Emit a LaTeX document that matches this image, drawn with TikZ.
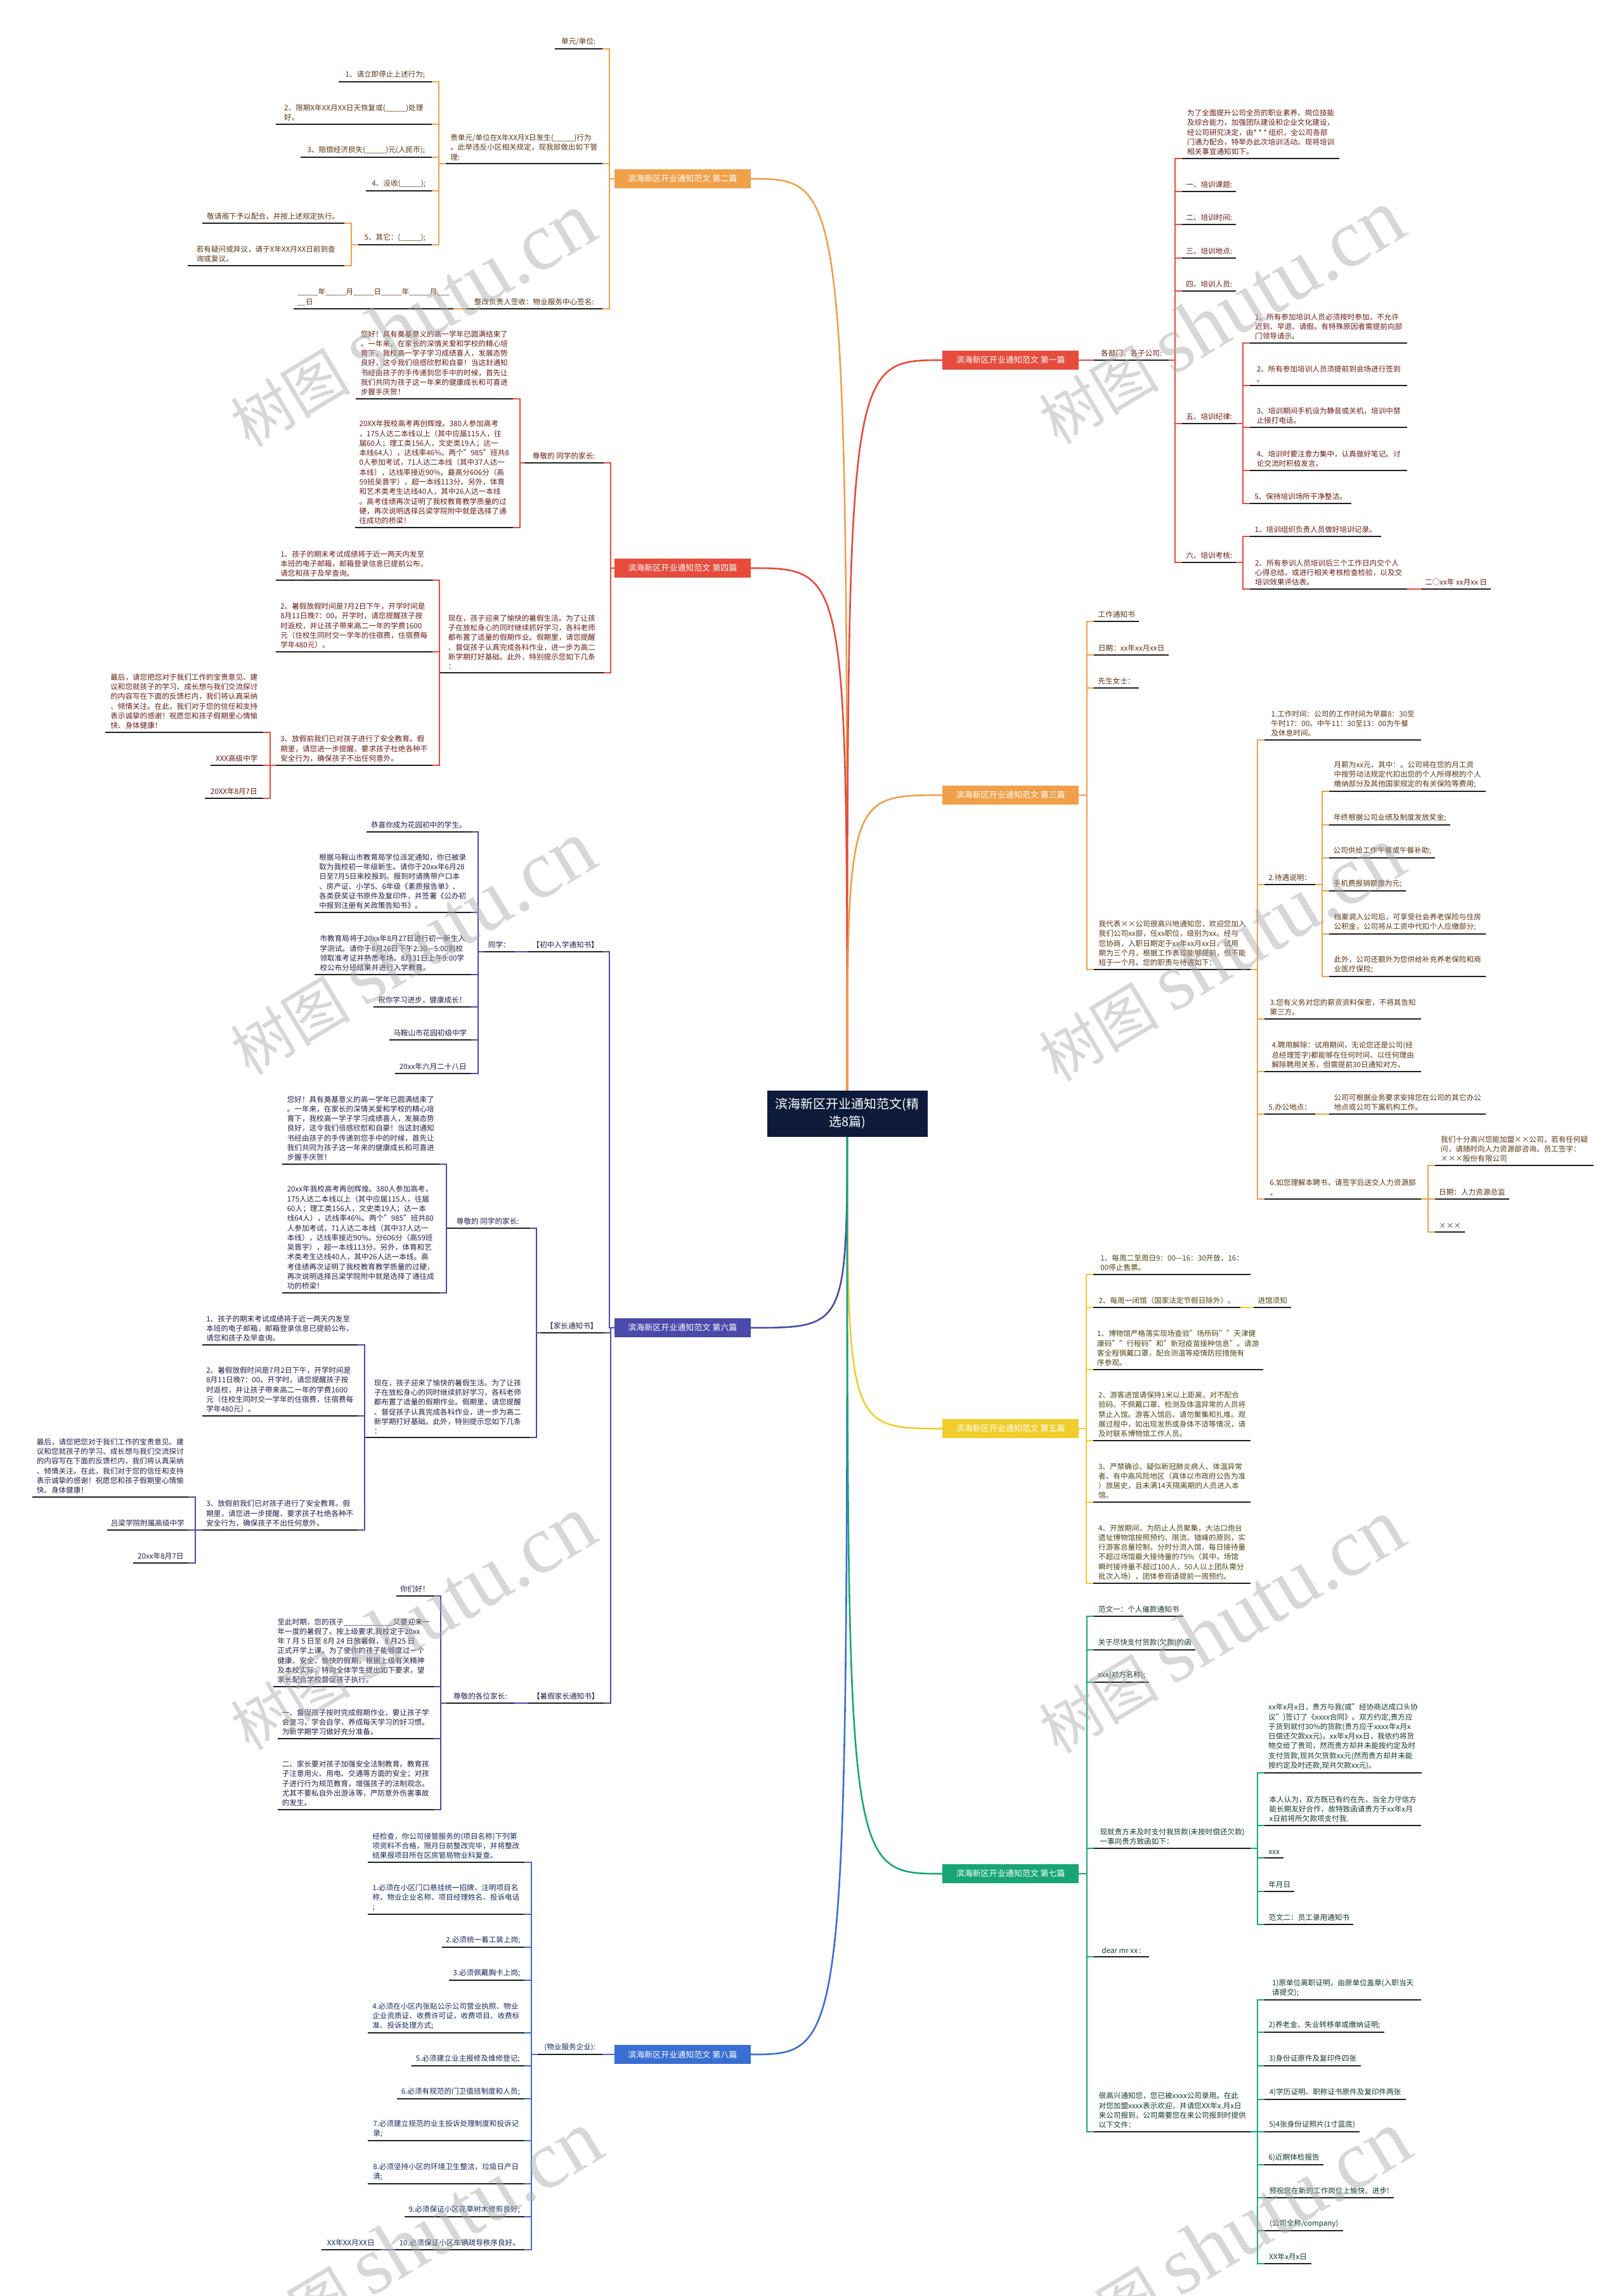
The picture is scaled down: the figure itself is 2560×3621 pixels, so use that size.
\documentclass[tikz,border=0pt]{standalone}
\usepackage{fontspec}
\setmainfont{Noto Sans CJK SC}
\newfontfamily\wmserif{Liberation Serif}
\pgfdeclarelayer{bg}
\pgfdeclarelayer{fg}
\pgfsetlayers{bg,main,fg}
\definecolor{cO}{HTML}{F0A04A}
\definecolor{cR}{HTML}{E64B3C}
\definecolor{cI}{HTML}{4A4AAA}
\definecolor{cB}{HTML}{3A6ED2}
\definecolor{cY}{HTML}{F1CD2C}
\definecolor{cG}{HTML}{17A673}
\definecolor{cRoot}{HTML}{0D1A3A}
\definecolor{tO}{HTML}{5A3512}
\definecolor{tR}{HTML}{6A1B16}
\definecolor{tI}{HTML}{20204A}
\definecolor{tB}{HTML}{16295A}
\definecolor{tY}{HTML}{4E4512}
\definecolor{tG}{HTML}{12392A}
\definecolor{wm}{HTML}{A8A8A8}
\newcommand\bodyfont{\fontsize{11.6}{15.3}\selectfont}
\newcommand\boxfont{\fontsize{13}{16}\selectfont}
\newcommand\rootfont{\fontsize{20}{28}\selectfont}
\newcommand\linkL[2]{\draw[cn] (#1.south east) -- ++(11,0) |- (#2.south west);}
\newcommand\linkR[2]{\draw[cn] (#1.south west) -- ++(-11,0) |- (#2.south east);}
\newcommand\linkLB[2]{\draw[cn] (#1.south east) -- ++(11,0) |- (#2.west);}
\newcommand\linkRB[2]{\draw[cn] (#1.south west) -- ++(-11,0) |- (#2.east);}
\begin{document}
\begin{tikzpicture}[x=1pt,y=-1pt,
  tx/.style={},
  cn/.style={draw=black,line width=2.2pt},
  ulk/.style={draw=black!88,line width=2pt},
  ul/.style={append after command={(\tikzlastnode.south west) edge[ulk] (\tikzlastnode.south east)}},
  leaf/.style={tx,font=\bodyfont,align=left,inner xsep=6pt,inner ysep=5pt,ul},
  lnode/.style={leaf,anchor=south east,minimum width=#1},
  rnode/.style={leaf,anchor=south west,minimum width=#1},
  brbox/.style={font=\boxfont,text=white,minimum width=215,minimum height=30,inner sep=3pt},
  brL/.style={brbox,anchor=east,fill=#1},
  brR/.style={brbox,anchor=west,fill=#1},
  curve/.style={line width=2.6pt},
  wmk/.style={text=wm,text opacity=0.45,rotate=31,font=\fontsize{95}{95}\selectfont,inner sep=0pt}
]
\begin{pgfonlayer}{bg}
\fill[white] (0,0) rectangle (2560,3621);
\end{pgfonlayer}
\useasboundingbox (0,0) rectangle (2560,3621);

% root
\node[fill=cRoot,text=white,font=\rootfont,align=center,minimum width=253,minimum height=73,inner sep=4pt] (root) at (1336,1756) {滨海新区开业通知范文(精\\选8篇)};

% branch boxes
\node[brL=cO] (b2) at (1184,282) {滨海新区开业通知范文 第二篇};
\node[brL=cR] (b4) at (1184,896) {滨海新区开业通知范文 第四篇};
\node[brL=cI] (b6) at (1184,2094) {滨海新区开业通知范文 第六篇};
\node[brL=cB] (b8) at (1184,3240) {滨海新区开业通知范文 第八篇};
\node[brR=cR] (b1) at (1486,568) {滨海新区开业通知范文 第一篇};
\node[brR=cO] (b3) at (1486,1254) {滨海新区开业通知范文 第三篇};
\node[brR=cY] (b5) at (1486,2253) {滨海新区开业通知范文 第五篇};
\node[brR=cG] (b7) at (1486,2955) {滨海新区开业通知范文 第七篇};

\begin{pgfonlayer}{bg}
\draw[curve,cO] (root.center) .. controls (root.center |- b2.east) .. (b2.east);
\draw[curve,cR] (root.center) .. controls (root.center |- b4.east) .. (b4.east);
\draw[curve,cI] (root.center) .. controls (root.center |- b6.east) .. (b6.east);
\draw[curve,cB] (root.center) .. controls (root.center |- b8.east) .. (b8.east);
\draw[curve,cR] (root.center) .. controls (root.center |- b1.west) .. (b1.west);
\draw[curve,cO] (root.center) .. controls (root.center |- b3.west) .. (b3.west);
\draw[curve,cY] (root.center) .. controls (root.center |- b5.west) .. (b5.west);
\draw[curve,cG] (root.center) .. controls (root.center |- b7.west) .. (b7.west);
\end{pgfonlayer}

% ---------------- Section 2
\begin{scope}[cn/.style={draw=cO,line width=2.2pt},tx/.style={text=tO}]
\node[lnode=75] (n2a) at (950,77) {单元/单位:};
\node[lnode=247] (n2b) at (950,258) {贵单元/单位在X年XX月X日发生(\_\_\_\_\_)行为\\。此举违反小区相关规定，现我部做出如下管\\理:};
\node[lnode=215] (n2c) at (950,487) {整改负责人签收：物业服务中心签名:};
\node[lnode=245] (n2c1) at (715,487) {\_\_\_\_\_年\_\_\_\_\_月\_\_\_\_\_日\_\_\_\_\_年\_\_\_\_\_月\_\_\_\\\_\_日};
\node[lnode=147] (n2b1) at (681,129) {1、请立即停止上述行为;};
\node[lnode=246] (n2b2) at (681,196) {2、限期X年XX月XX日天恢复或(\_\_\_\_\_)处理\\好。};
\node[lnode=207] (n2b3) at (681,248) {3、赔偿经济损失(\_\_\_\_\_)元(人民币);};
\node[lnode=104] (n2b4) at (681,301) {4、没收(\_\_\_\_\_);};
\node[lnode=116] (n2b5) at (681,386) {5、其它：(\_\_\_\_\_);};
\node[lnode=224] (n2b5a) at (543,352) {敬请阁下予以配合，并按上述规定执行。};
\node[lnode=247] (n2b5b) at (543,419) {若有疑问或异议，请于X年XX月XX日前到查\\询或复议。};
\linkLB{n2a}{b2}\linkLB{n2b}{b2}\linkLB{n2c}{b2}
\linkL{n2c1}{n2c}
\linkL{n2b1}{n2b}\linkL{n2b2}{n2b}\linkL{n2b3}{n2b}\linkL{n2b4}{n2b}\linkL{n2b5}{n2b}
\linkL{n2b5a}{n2b5}\linkL{n2b5b}{n2b5}
\end{scope}

% ---------------- Section 4
\begin{scope}[cn/.style={draw=cR,line width=2.2pt},tx/.style={text=tR}]
\node[lnode=125] (n4a) at (952,730) {尊敬的 同学的家长:};
\node[lnode=248] (n4a1) at (809,629) {您好！具有奠基意义的高一学年已圆满结束了\\。一年来，在家长的深情关爱和学校的精心培\\育下，我校高一学子学习成绩喜人，发展态势\\良好，这令我们倍感欣慰和自豪！当这封通知\\书经由孩子的手传递到您手中的时候，首先让\\我们共同为孩子这一年来的健康成长和可喜进\\步握手庆贺！};
\node[lnode=248] (n4a2) at (809,832) {20XX年我校高考再创辉煌。380人参加高考\\，175人达二本线以上（其中应届115人，往\\届60人；理工类156人，文史类19人；达一\\本线64人），达线率46\%。两个"985"班共8\\0人参加考试，71人达二本线（其中37人达一\\本线），达线率接近90\%。最高分606分（高\\59班吴晋宇），超一本线113分。另外，体育\\和艺术类考生达线40人，其中26人达一本线\\。高考佳绩再次证明了我校教育教学质量的过\\硬，再次说明选择吕梁学院附中就是选择了通\\往成功的桥梁！};
\node[lnode=258] (n4b) at (952,1061) {现在，孩子迎来了愉快的暑假生活。为了让孩\\子在放松身心的同时继续抓好学习，各科老师\\都布置了适量的假期作业。假期里，请您提醒\\、督促孩子认真完成各科作业，进一步为高二\\新学期打好基础。此外，特别提示您如下几条\\：};
\node[lnode=247] (n4b1) at (682,915) {1、孩子的期末考试成绩将于近一两天内发至\\本班的电子邮箱，邮箱登录信息已提前公布，\\请您和孩子及早查询。};
\node[lnode=247] (n4b2) at (682,1028) {2、暑假放假时间是7月2日下午，开学时间是\\8月11日晚7：00。开学时，请您提醒孩子按\\时返校，并让孩子带来高二一年的学费1600\\元（住校生同时交一学年的住宿费，住宿费每\\学年480元）。};
\node[lnode=247] (n4b3) at (682,1207) {3、放假前我们已对孩子进行了安全教育。假\\期里，请您进一步提醒、要求孩子杜绝各种不\\安全行为，确保孩子不出任何意外。};
\node[lnode=249] (n4b3a) at (415,1155) {最后，请您把您对于我们工作的宝贵意见、建\\议和您就孩子的学习、成长想与我们交流探讨\\的内容写在下面的反馈栏内，我们将认真采纳\\、倾情关注。在此，我们对于您的信任和支持\\表示诚挚的感谢！祝愿您和孩子假期里心情愉\\快、身体健康！};
\node[lnode=83] (n4b3b) at (415,1207) {XXX高级中学};
\node[lnode=92] (n4b3c) at (415,1259) {20XX年8月7日};
\linkLB{n4a}{b4}\linkLB{n4b}{b4}
\linkL{n4a1}{n4a}\linkL{n4a2}{n4a}
\linkL{n4b1}{n4b}\linkL{n4b2}{n4b}\linkL{n4b3}{n4b}
\linkL{n4b3a}{n4b3}\linkL{n4b3b}{n4b3}\linkL{n4b3c}{n4b3}
\end{scope}

% ---------------- Section 6
\begin{scope}[cn/.style={draw=cI,line width=2.2pt},tx/.style={text=tI}]
\node[lnode=116] (n6a) at (950,1501) {【初中入学通知书】};
\node[lnode=47] (n6a1) at (811,1501) {同学：};
\node[lnode=165] (n6a1a) at (743,1312) {恭喜你成为花园初中的学生。};
\node[lnode=247] (n6a1b) at (743,1439) {根据马鞍山市教育局学位派定通知，你已被录\\取为我校初一年级新生。请你于20xx年6月28\\日至7月5日来校报到。报到时请携带户口本\\、房产证、小学5、6年级《素质报告单》、\\各类获奖证书原件及复印件，并签署《公办初\\中报到注册有关政策告知书》。};
\node[lnode=247] (n6a1c) at (743,1537) {市教育局将于20xx年8月27日进行初一新生入\\学测试。请你于8月26日下午2:30—5:00到校\\领取准考证并熟悉考场。8月31日上午9:00学\\校公布分班结果并进行入学教育。};
\node[lnode=154] (n6a1d) at (743,1588) {祝你学习进步，健康成长！};
\node[lnode=129] (n6a1e) at (743,1640) {马鞍山市花园初级中学};
\node[lnode=120] (n6a1f) at (743,1693) {20xx年六月二十八日};
\node[lnode=100] (n6b) at (952,2102) {【家长通知书】};
\node[lnode=131] (n6b1) at (835,1937) {尊敬的 同学的家长:};
\node[lnode=248] (n6b1a) at (693,1836) {您好！具有奠基意义的高一学年已圆满结束了\\。一年来，在家长的深情关爱和学校的精心培\\育下，我校高一学子学习成绩喜人，发展态势\\良好，这令我们倍感欣慰和自豪！当这封通知\\书经由孩子的手传递到您手中的时候，首先让\\我们共同为孩子这一年来的健康成长和可喜进\\步握手庆贺！};
\node[lnode=248] (n6b1b) at (693,2039) {20xx年我校高考再创辉煌。380人参加高考，\\175人达二本线以上（其中应届115人，往届\\60人；理工类156人，文史类19人；达一本\\线64人），达线率46\%。两个"985"班共80\\人参加考试，71人达二本线（其中37人达一\\本线），达线率接近90\%。分606分（高59班\\吴晋宇），超一本线113分。另外，体育和艺\\术类考生达线40人，其中26人达一本线。高\\考佳绩再次证明了我校教育教学质量的过硬，\\再次说明选择吕梁学院附中就是选择了通往成\\功的桥梁！};
\node[lnode=258] (n6b2) at (835,2267) {现在，孩子迎来了愉快的暑假生活。为了让孩\\子在放松身心的同时继续抓好学习，各科老师\\都布置了适量的假期作业。假期里，请您提醒\\、督促孩子认真完成各科作业，进一步为高二\\新学期打好基础。此外，特别提示您如下几条\\：};
\node[lnode=245] (n6b2a) at (564,2121) {1、孩子的期末考试成绩将于近一两天内发至\\本班的电子邮箱，邮箱登录信息已提前公布，\\请您和孩子及早查询。};
\node[lnode=245] (n6b2b) at (564,2233) {2、暑假放假时间是7月2日下午，开学时间是\\8月11日晚7：00。开学时，请您提醒孩子按\\时返校，并让孩子带来高二一年的学费1600\\元（住校生同时交一学年的住宿费，住宿费每\\学年480元）。};
\node[lnode=245] (n6b2c) at (564,2413) {3、放假前我们已对孩子进行了安全教育。假\\期里，请您进一步提醒、要求孩子杜绝各种不\\安全行为，确保孩子不出任何意外。};
\node[lnode=246] (n6b2c1) at (297,2361) {最后，请您把您对于我们工作的宝贵意见、建\\议和您就孩子的学习、成长想与我们交流探讨\\的内容写在下面的反馈栏内，我们将认真采纳\\、倾情关注。在此，我们对于您的信任和支持\\表示诚挚的感谢！祝愿您和孩子假期里心情愉\\快、身体健康！};
\node[lnode=128] (n6b2c2) at (297,2413) {吕梁学院附属高级中学};
\node[lnode=87] (n6b2c3) at (297,2465) {20xx年8月7日};
\node[lnode=119] (n6c) at (952,2686) {【暑假家长通知书】};
\node[lnode=107] (n6c1) at (811,2686) {尊敬的各位家长:};
\node[lnode=59] (n6c1a) at (684,2517) {你们好！};
\node[lnode=246] (n6c1b) at (684,2660) {至此时期，您的孩子\_\_\_\_\_\_\_\_\_\_\_\_又要迎来一\\年一度的暑假了。按上级要求,我校定于20xx\\年 7 月 5 日至 8月 24 日放暑假， 8 月25 日\\正式开学上课。为了使你的孩子能够度过一个\\健康、安全、愉快的假期，根据上级有关精神\\及本校实际，特向全体学生提出如下要求，望\\家长配合学校督促孩子执行。};
\node[lnode=246] (n6c1c) at (684,2742) {一、督促孩子按时完成假期作业，要让孩子学\\会复习，学会自学，养成每天学习的好习惯。\\为新学期学习做好充分准备。};
\node[lnode=246] (n6c1d) at (684,2854) {二、家长要对孩子加强安全法制教育。教育孩\\子注意用火、用电、交通等方面的安全；对孩\\子进行行为规范教育，增强孩子的法制观念。\\尤其不要私自外出游泳等，严防意外伤害事故\\的发生。};
\linkLB{n6a}{b6}\linkLB{n6b}{b6}\linkLB{n6c}{b6}
\linkL{n6a1}{n6a}
\linkL{n6a1a}{n6a1}\linkL{n6a1b}{n6a1}\linkL{n6a1c}{n6a1}\linkL{n6a1d}{n6a1}\linkL{n6a1e}{n6a1}\linkL{n6a1f}{n6a1}
\linkL{n6b1}{n6b}\linkL{n6b2}{n6b}
\linkL{n6b1a}{n6b1}\linkL{n6b1b}{n6b1}
\linkL{n6b2a}{n6b2}\linkL{n6b2b}{n6b2}\linkL{n6b2c}{n6b2}
\linkL{n6b2c1}{n6b2c}\linkL{n6b2c2}{n6b2c}\linkL{n6b2c3}{n6b2c}
\linkL{n6c1}{n6c}
\linkL{n6c1a}{n6c1}\linkL{n6c1b}{n6c1}\linkL{n6c1c}{n6c1}\linkL{n6c1d}{n6c1}
\end{scope}

% ---------------- Section 8
\begin{scope}[cn/.style={draw=cB,line width=2.2pt},tx/.style={text=tB}]
\node[lnode=102] (n8a) at (950,3240) {(物业服务企业):};
\node[lnode=247] (n8a1) at (827,2937) {经检查，你公司接管服务的(项目名称)下列第\\项资料不合格，限月日前整改完毕，并将整改\\结果报项目所在区房管局物业科复查。};
\node[lnode=247] (n8a2) at (827,3019) {1.必须在小区门口悬挂统一招牌，注明项目名\\称，物业企业名称、项目经理姓名、投诉电话\\;};
\node[lnode=130] (n8a3) at (827,3071) {2.必须统一着工装上岗;};
\node[lnode=119] (n8a4) at (827,3123) {3.必须佩戴胸卡上岗;};
\node[lnode=247] (n8a5) at (827,3206) {4.必须在小区内张贴公示公司营业执照、物业\\企业资质证、收费许可证，收费项目、收费标\\准、投诉处理方式;};
\node[lnode=178] (n8a6) at (827,3258) {5.必须建立业主报修及维修登记;};
\node[lnode=201] (n8a7) at (827,3310) {6.必须有规范的门卫值班制度和人员;};
\node[lnode=247] (n8a8) at (827,3376) {7.必须建立规范的业主投诉处理制度和投诉记\\录;};
\node[lnode=247] (n8a9) at (827,3444) {8.必须坚持小区的环境卫生整洁，垃圾日产日\\清;};
\node[lnode=189] (n8a10) at (827,3496) {9.必须保证小区花草树木修剪良好;};
\node[lnode=204] (n8a11) at (827,3548) {10.必须保证小区车辆疏导秩序良好。};
\node[lnode=93] (n8a12) at (600,3548) {XX年XX月XX日};
\linkLB{n8a}{b8}
\foreach \k in {1,...,11}{\linkL{n8a\k}{n8a}}
\linkL{n8a12}{n8a11}
\end{scope}

% ---------------- Section 1
\begin{scope}[cn/.style={draw=cR,line width=2.2pt},tx/.style={text=tR}]
\node[rnode=118] (n1a) at (1725,568) {各部门、各子公司:};
\node[rnode=248] (n1a1) at (1864,250) {为了全面提升公司全员的职业素养、岗位技能\\及综合能力，加强团队建设和企业文化建设，\\经公司研究决定，由* * * 组织，全公司各部\\门通力配合，特举办此次培训活动。现将培训\\相关事宜通知如下。};
\node[rnode=85] (n1a2) at (1864,302) {一、培训课题:};
\node[rnode=85] (n1a3) at (1864,354) {二、培训时间:};
\node[rnode=85] (n1a4) at (1864,407) {三、培训地点:};
\node[rnode=85] (n1a5) at (1864,459) {四、培训人员:};
\node[rnode=85] (n1a6) at (1864,668) {五、培训纪律:};
\node[rnode=85] (n1a7) at (1864,887) {六、培训考核:};
\node[rnode=248] (n1f1) at (1971,541) {1、所有参加培训人员必须按时参加，不允许\\迟到、早退、请假。有特殊原因者需提前向部\\门领导请示。};
\node[rnode=248] (n1f2) at (1971,608) {2、所有参加培训人员须提前到会场进行签到\\。};
\node[rnode=248] (n1f3) at (1971,674) {3、培训期间手机设为静音或关机，培训中禁\\止接打电话。};
\node[rnode=248] (n1f4) at (1971,742) {4、培训时要注意力集中，认真做好笔记。讨\\论交流时积极发言。};
\node[rnode=160] (n1f5) at (1971,794) {5、保持培训场所干净整洁。};
\node[rnode=207] (n1g1) at (1971,846) {1、培训组织负责人员做好培训记录。};
\node[rnode=248] (n1g2) at (1971,929) {2、所有参训人员培训后三个工作日内交个人\\心得总结，或进行相关考核检查检验，以及交\\培训效果评估表。};
\node[rnode=107] (n1g3) at (2241,929) {二○xx年 xx月xx 日};
\linkRB{n1a}{b1}
\foreach \k in {1,...,7}{\linkR{n1a\k}{n1a}}
\foreach \k in {1,...,5}{\linkR{n1f\k}{n1a6}}
\linkR{n1g1}{n1a7}\linkR{n1g2}{n1a7}
\linkR{n1g3}{n1g2}
\end{scope}

% ---------------- Section 3
\begin{scope}[cn/.style={draw=cO,line width=2.2pt},tx/.style={text=tO}]
\node[rnode=71] (n3a) at (1725,980) {工作通知书};
\node[rnode=118] (n3b) at (1725,1033) {日期：xx年xx月xx日};
\node[rnode=71] (n3c) at (1725,1085) {先生女士：};
\node[rnode=247] (n3d) at (1725,1529) {我代表××公司很高兴地通知您，欢迎您加入\\我们公司xx部，任xx职位，级别为xx。经与\\您协商，入职日期定于xx年xx月xx日，试用\\期为三个月，根据工作表现能够提前，但不能\\短于一个月。您的职责与待遇如下：};
\node[rnode=247] (n3d1) at (1994,1167) {1.工作时间：公司的工作时间为早晨8：30至\\午时17：00。中午11：30至13：00为午餐\\及休息时间。};
\node[rnode=80] (n3d2) at (1994,1395) {2.待遇说明：};
\node[rnode=247] (n3d3) at (1994,1607) {3.您有义务对您的薪资资料保密，不将其告知\\第三方。};
\node[rnode=247] (n3d4) at (1994,1690) {4.聘用解除：试用期间，无论您还是公司(经\\总经理签字)都能够在任何时间、以任何理由\\解除聘用关系，但需提前30日通知对方。};
\node[rnode=80] (n3d5) at (1994,1757) {5.办公地点：};
\node[rnode=247] (n3d6) at (1994,1891) {6.如您理解本聘书，请签字后送交人力资源部\\。};
\node[rnode=247] (n3e1) at (2096,1248) {月薪为xx元，其中：。公司将在您的月工资\\中按劳动法规定代扣出您的个人所得税的个人\\缴纳部分及其他国家规定的有关保险等费用;};
\node[rnode=191] (n3e2) at (2096,1301) {年终根据公司业绩及制度发放奖金;};
\node[rnode=167] (n3e3) at (2096,1353) {公司供给工作午餐或午餐补助;};
\node[rnode=121] (n3e4) at (2096,1405) {手机费报销额度为元;};
\node[rnode=247] (n3e5) at (2096,1473) {档案调入公司后，可享受社会养老保险与住房\\公积金，公司将从工资中代扣个人应缴部分;};
\node[rnode=247] (n3e6) at (2096,1540) {此外，公司还额外为您供给补充养老保险和商\\业医疗保险;};
\node[rnode=247] (n3f) at (2096,1757) {公司可根据业务要求安排您在公司的其它办公\\地点或公司下属机构工作。};
\node[rnode=250] (n3g1) at (2263,1838) {我们十分高兴您能加盟××公司，若有任何疑\\问，请随时向人力资源部咨询。员工签字：\\×××股份有限公司};
\node[rnode=116] (n3g2) at (2263,1891) {日期：人力资源总监};
\node[rnode=37] (n3g3) at (2263,1943) {×××};
\linkRB{n3a}{b3}\linkRB{n3b}{b3}\linkRB{n3c}{b3}\linkRB{n3d}{b3}
\foreach \k in {1,...,6}{\linkR{n3d\k}{n3d}}
\foreach \k in {1,...,6}{\linkR{n3e\k}{n3d2}}
\linkR{n3f}{n3d5}
\foreach \k in {1,2,3}{\linkR{n3g\k}{n3d6}}
\end{scope}

% ---------------- Section 5
\begin{scope}[cn/.style={draw=cY,line width=2.2pt},tx/.style={text=tY}]
\node[rnode=248] (n5a) at (1724,2010) {1、每周二至周日9：00—16：30开放，16：\\00停止售票。};
\node[rnode=232] (n5b) at (1724,2062) {2、每周一闭馆（国家法定节假日除外）。};
\node[rnode=59] (n5b1) at (1977,2062) {进馆须知};
\node[rnode=248] (n5c) at (1724,2160) {1、博物馆严格落实现场查验"场所码""天津健\\康码""行程码"和"新冠疫苗接种信息"。请游\\客全程佩戴口罩，配合测温等疫情防控措施有\\序参观。};
\node[rnode=248] (n5d) at (1724,2272) {2、游客进馆请保持1米以上距离，对不配合\\验码、不佩戴口罩、检测及体温异常的人员将\\禁止入馆。游客入馆后，请勿聚集和扎堆。观\\展过程中，如出现发热或身体不适等情况，请\\及时联系博物馆工作人员。};
\node[rnode=248] (n5e) at (1724,2369) {3、严禁确诊、疑似新冠肺炎病人、体温异常\\者、有中高风险地区（具体以市政府公告为准\\）旅居史，且未满14天隔离期的人员进入本\\馆。};
\node[rnode=248] (n5f) at (1724,2497) {4、开放期间，为防止人员聚集，大沽口炮台\\遗址博物馆按照预约、限流、错峰的原则，实\\行游客总量控制，分时分流入馆，每日接待量\\不超过场馆最大接待量的75\%（其中，场馆\\瞬时接待量不超过100人，50人以上团队需分\\批次入场），团体参观请提前一周预约。};
\linkRB{n5a}{b5}\linkRB{n5b}{b5}\linkRB{n5c}{b5}\linkRB{n5d}{b5}\linkRB{n5e}{b5}\linkRB{n5f}{b5}
\linkR{n5b1}{n5b}
\end{scope}

% ---------------- Section 7
\begin{scope}[cn/.style={draw=cG,line width=2.2pt},tx/.style={text=tG}]
\node[rnode=141] (n7a) at (1725,2549) {范文一：个人催款通知书};
\node[rnode=160] (n7b) at (1725,2602) {关于尽快支付货款(欠款)的函};
\node[rnode=87] (n7c) at (1725,2653) {xxx(对方名称);};
\node[rnode=247] (n7d) at (1725,2915) {现就贵方未及时支付我货款(未按时偿还欠款)\\一事向贵方致函如下：};
\node[rnode=87] (n7e) at (1725,3086) {dear mr xx :};
\node[rnode=247] (n7f) at (1725,3362) {很高兴通知您，您已被xxxx公司录用。在此\\对您加盟xxxx表示欢迎，并请您XX年x.月x日\\来公司报到，公司需要您在来公司报到时提供\\以下文件：};
\node[rnode=247] (n7d1) at (1994,2796) {xx年x月x日，贵方与我(或"经协商达成口头协\\议")签订了《xxxx合同》。双方约定,贵方应\\于货到就付30\%的货款(贵方应于xxxx年x月x\\日偿还欠款xx元)。xx年x月xx日，我依约将货\\物交给了贵司，然而贵方却并未能按约定及时\\支付货款,现共欠货款xx元(然而贵方却并未能\\按约定及时还款,现共欠款xx元)。};
\node[rnode=247] (n7d2) at (1994,2879) {本人认为，双方既已有约在先，当全力守信方\\能长期友好合作，故特致函请贵方于xx年x月\\x日前将所欠款项支付我.};
\node[rnode=30] (n7d3) at (1994,2930) {xxx};
\node[rnode=47] (n7d4) at (1994,2983) {年月日};
\node[rnode=140] (n7d5) at (1994,3035) {范文二：员工录用通知书};
\node[rnode=247] (n7f1) at (1994,3154) {1)原单位离职证明，由原单位盖章(入职当天\\请提交);};
\node[rnode=189] (n7f2) at (1994,3205) {2)养老金、失业转移单或缴纳证明;};
\node[rnode=152] (n7f3) at (1994,3258) {3)身份证原件及复印件四张};
\node[rnode=223] (n7f4) at (1994,3311) {4)学历证明、职称证书原件及复印件两张};
\node[rnode=150] (n7f5) at (1994,3362) {5)4张身份证照片(1寸蓝底)};
\node[rnode=93] (n7f6) at (1994,3414) {6)近期体检报告};
\node[rnode=204] (n7f7) at (1994,3466) {预祝您在新的工作岗位上愉快、进步!};
\node[rnode=124] (n7f8) at (1994,3518) {(公司全称/company)};
\node[rnode=74] (n7f9) at (1994,3570) {XX年x月x日};
\linkRB{n7a}{b7}\linkRB{n7b}{b7}\linkRB{n7c}{b7}\linkRB{n7d}{b7}\linkRB{n7e}{b7}\linkRB{n7f}{b7}
\foreach \k in {1,...,5}{\linkR{n7d\k}{n7d}}
\foreach \k in {1,...,9}{\linkR{n7f\k}{n7f}}
\end{scope}

% watermarks (on top, translucent)
\begin{pgfonlayer}{fg}
\foreach \wx/\wy [count=\i] in {650/505,1925/500,650/1495,1925/1505,650/2560,1925/2565,660/3530,1935/3530}{
  \node[wmk] (wm\i) at (\wx,\wy) {树图 {\wmserif\fontsize{130}{130}\selectfont shutu.cn}};
}
\end{pgfonlayer}
\end{tikzpicture}
\end{document}
